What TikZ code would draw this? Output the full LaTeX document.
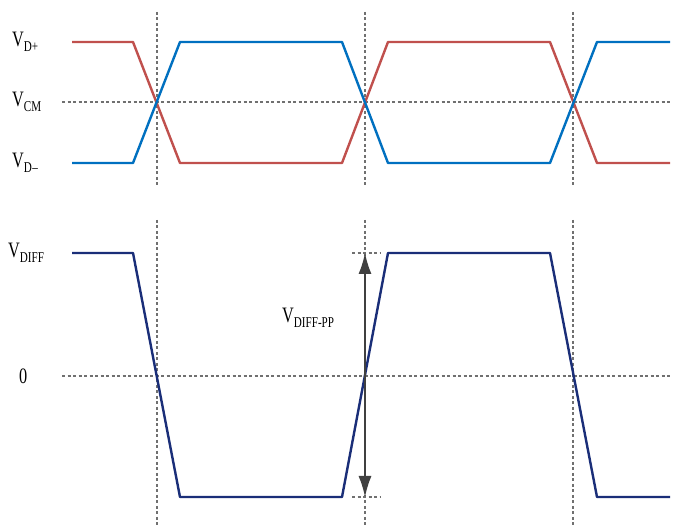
\documentclass[tikz,border=0pt]{standalone}
\usepackage{fontspec}
\newfontfamily\labfont[FakeStretch=0.74]{Liberation Serif}
\usetikzlibrary{arrows.meta}
\definecolor{redl}{HTML}{C0504D}
\definecolor{bluel}{HTML}{0070C0}
\definecolor{navyl}{HTML}{1A2E78}
\definecolor{gridg}{HTML}{707070}
\definecolor{arrg}{HTML}{404040}
\newcommand{\sbs}[1]{\raisebox{-0.22em}{\fontsize{15}{15}\selectfont #1}}
\tikzset{
  guide/.style={draw=gridg, line width=1.1pt, dash pattern=on 3pt off 2.5pt},
  sig/.style={line width=2.4pt, line join=round},
  lab/.style={anchor=west, inner sep=0pt, font=\labfont\fontsize{22}{22}\selectfont},
}
\begin{document}
\begin{tikzpicture}[x=1pt,y=-1pt]
\useasboundingbox (0,0) rectangle (678,526);
\fill[white] (0,0) rectangle (678,526);
% guides
\draw[guide] (62,102) -- (670,102);
\draw[guide] (62,376) -- (670,376);
\foreach \x in {157,365,573}{
  \draw[guide] (\x,12) -- (\x,187);
  \draw[guide] (\x,220) -- (\x,526);
}
\draw[guide, line width=1.4pt] (352,253) -- (380,253);
\draw[guide, line width=1.4pt] (352,497) -- (380,497);
% top signals
\draw[sig, redl] (72,42) -- (133,42) -- (180,163) -- (342,163) -- (388,42) -- (550,42) -- (597,163) -- (670,163);
\draw[sig, bluel] (72,163) -- (133,163) -- (180,42) -- (342,42) -- (388,163) -- (550,163) -- (597,42) -- (670,42);
% bottom signal
\draw[sig, navyl] (72,253) -- (133,253) -- (180,497) -- (342,497) -- (388,253) -- (550,253) -- (597,497) -- (670,497);
% arrow
\coordinate (atop) at (365,253);
\coordinate (abot) at (365,497);
\draw[arrg, line width=1.5pt, {Latex[length=21pt,width=13pt]}-{Latex[length=21pt,width=13pt]}] (atop) -- (abot);
% labels
\node[lab] (vdp) at (12,42) {V\sbs{D+}};
\node[lab] (vcm) at (12,102) {V\sbs{CM}};
\node[lab] (vdm) at (12,163) {V\sbs{D\kern0.5pt\textendash}};
\node[lab] (vdiff) at (8,253) {V\sbs{DIFF}};
\node[lab] (zero) at (19,376) {0};
\node[lab] (vpp) at (282,318) {V\sbs{DIFF-PP}};
\end{tikzpicture}
\end{document}
